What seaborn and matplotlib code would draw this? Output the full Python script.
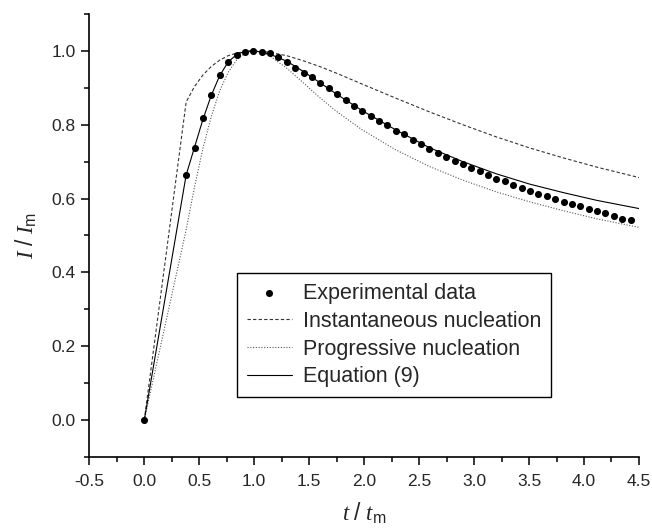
import matplotlib
matplotlib.use('Agg')
import matplotlib.pyplot as plt
from matplotlib.ticker import MultipleLocator
import seaborn as sns
import pandas as pd

# experimental points (t/tm, I/Im)
t_data = [0.0, 0.381, 0.458, 0.534, 0.610, 0.686, 0.763, 0.839, 0.915, 0.992,
          1.068, 1.144, 1.220, 1.297, 1.373, 1.449, 1.525, 1.602, 1.678, 1.754,
          1.831, 1.907, 1.983, 2.059, 2.136, 2.212, 2.288, 2.364, 2.441, 2.517,
          2.593, 2.669, 2.746, 2.822, 2.898, 2.974, 3.051, 3.127, 3.203, 3.280,
          3.356, 3.432, 3.508, 3.585, 3.661, 3.737, 3.814, 3.890, 3.966, 4.042,
          4.119, 4.195, 4.271, 4.347, 4.424]
i_data = [0.0, 0.664, 0.737, 0.817, 0.881, 0.934, 0.970, 0.990, 0.998, 1.000,
          0.998, 0.993, 0.984, 0.970, 0.955, 0.941, 0.929, 0.913, 0.899, 0.882,
          0.867, 0.852, 0.838, 0.824, 0.810, 0.799, 0.784, 0.774, 0.758, 0.748,
          0.735, 0.724, 0.712, 0.703, 0.693, 0.682, 0.674, 0.664, 0.654, 0.647,
          0.638, 0.628, 0.621, 0.613, 0.607, 0.598, 0.592, 0.586, 0.579, 0.573,
          0.566, 0.561, 0.554, 0.546, 0.543]

# model curves
t_model = [0.0, 0.381, 0.458, 0.534, 0.610, 0.686, 0.763, 0.839, 0.915, 0.992,
           1.068, 1.144, 1.297, 1.449, 1.602, 1.754, 1.983, 2.288, 2.593, 2.898,
           3.203, 3.508, 3.814, 4.119, 4.500]
i_inst = [0.0, 0.862, 0.904, 0.935, 0.958, 0.975, 0.987, 0.994, 0.998, 1.000,
          0.999, 0.996, 0.987, 0.973, 0.957, 0.939, 0.910, 0.872, 0.835, 0.800,
          0.767, 0.737, 0.710, 0.685, 0.657]
i_prog = [0.0, 0.516, 0.633, 0.737, 0.823, 0.892, 0.942, 0.975, 0.994, 1.000,
          0.997, 0.986, 0.953, 0.913, 0.872, 0.835, 0.786, 0.732, 0.687, 0.650,
          0.618, 0.591, 0.567, 0.545, 0.522]
i_eq9 = [0.0, 0.664, 0.740, 0.815, 0.880, 0.933, 0.970, 0.990, 0.999, 1.000,
         0.997, 0.991, 0.972, 0.944, 0.913, 0.882, 0.838, 0.786, 0.738, 0.700,
         0.667, 0.639, 0.616, 0.595, 0.573]

sns.set_style('ticks')
plt.rcParams['font.family'] = ['Liberation Sans', 'DejaVu Sans']
plt.rcParams['mathtext.fontset'] = 'custom'
plt.rcParams['mathtext.it'] = 'Liberation Serif:italic'
plt.rcParams['mathtext.rm'] = 'Liberation Sans'

fig = plt.figure(figsize=(6.52, 5.28), dpi=100)
ax = fig.add_axes([0.137, 0.1345, 0.843, 0.839])

df_exp = pd.DataFrame({'t': t_data, 'i': i_data})
df_mod = pd.DataFrame({'t': t_model, 'inst': i_inst, 'prog': i_prog, 'eq9': i_eq9})

sns.scatterplot(data=df_exp, x='t', y='i', ax=ax, color='black', s=26,
                linewidth=0, zorder=3, label='Experimental data')
sns.lineplot(data=df_mod, x='t', y='inst', ax=ax, color='#333333', lw=0.8,
             linestyle=(0, (3, 2)), estimator=None, label='Instantaneous nucleation')
sns.lineplot(data=df_mod, x='t', y='prog', ax=ax, color='#555555', lw=0.8,
             linestyle=(0, (1, 1.5)), estimator=None, label='Progressive nucleation')
sns.lineplot(data=df_mod, x='t', y='eq9', ax=ax, color='black', lw=0.8,
             estimator=None, label='Equation (9)')

ax.set_xlim(-0.5, 4.5)
ax.set_ylim(-0.1, 1.1)
ax.xaxis.set_major_locator(MultipleLocator(0.5))
ax.xaxis.set_minor_locator(MultipleLocator(0.25))
ax.yaxis.set_major_locator(MultipleLocator(0.2))
ax.yaxis.set_minor_locator(MultipleLocator(0.1))
ax.xaxis.set_major_formatter(plt.FuncFormatter(lambda v, p: f'{v:.1f}'))
ax.yaxis.set_major_formatter(plt.FuncFormatter(lambda v, p: f'{v:.1f}'))
ax.tick_params(which='major', direction='out', length=6, width=1.1, labelsize=12.5,
               color='black', pad=4)
ax.tick_params(axis='x', which='major', pad=6)
ax.tick_params(which='minor', direction='out', length=3.5, width=1.1, color='black')
sns.despine(ax=ax)
for sp in ['left', 'bottom']:
    ax.spines[sp].set_linewidth(1.2)
    ax.spines[sp].set_color('black')

ax.set_xlabel(r'$t\ /\ t_{\mathrm{m}}$', fontsize=16.5, labelpad=9)
ax.set_ylabel(r'$I\ /\ I_{\mathrm{m}}$', fontsize=16.5, labelpad=9)

leg = ax.legend(loc='lower left', bbox_to_anchor=(0.269, 0.135), borderaxespad=0,
                fontsize=15.5, frameon=True, fancybox=False, edgecolor='black',
                framealpha=1, handlelength=2.1, handletextpad=0.5,
                labelspacing=0.32, borderpad=0.45)
leg.get_frame().set_linewidth(1.0)

fig.savefig('out.png', dpi=100)
